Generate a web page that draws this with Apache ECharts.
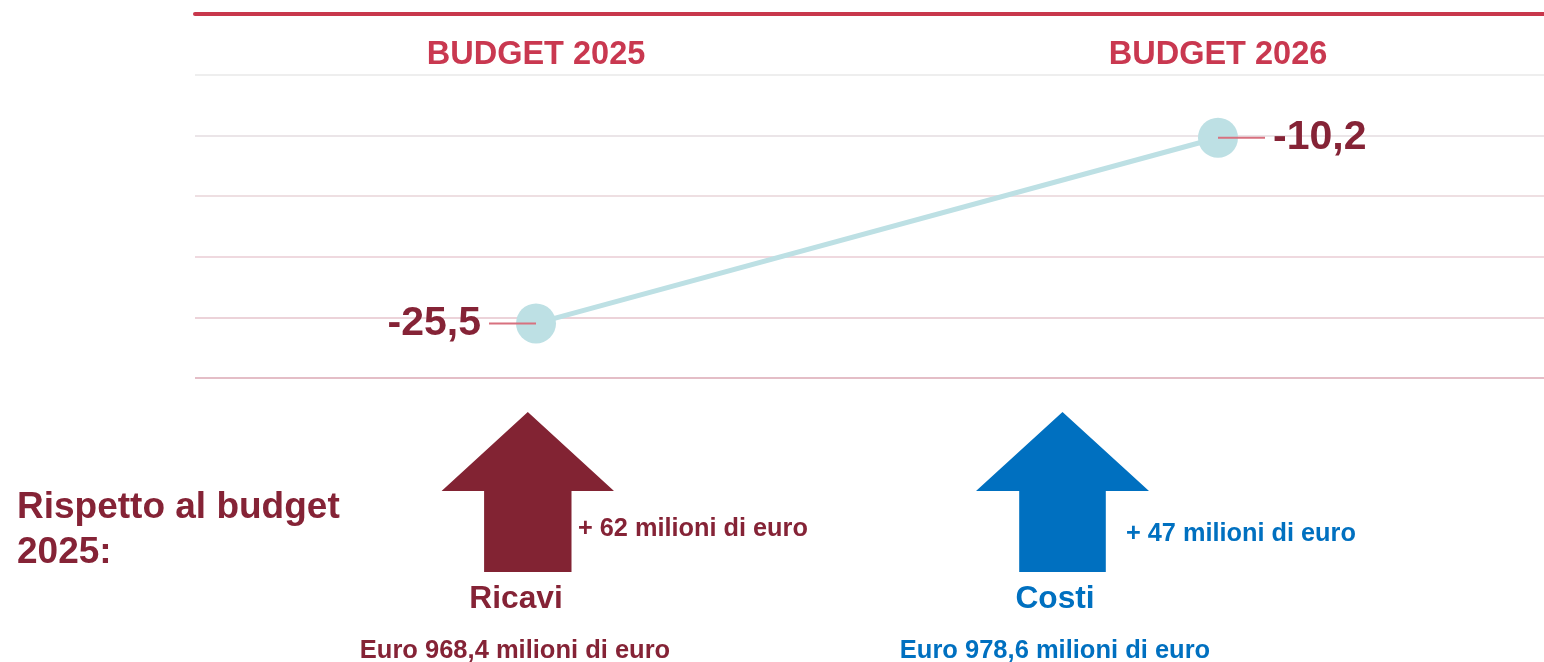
<!DOCTYPE html>
<html>
<head>
<meta charset="utf-8">
<script src="https://cdn.jsdelivr.net/npm/echarts@6/dist/echarts.min.js"></script>
<style>
  html, body { margin: 0; padding: 0; background: #fff; overflow: hidden; }
  /* the plot runs a little past the right edge, as in the original */
  #chart { width: 1559px; height: 662px; }
</style>
</head>
<body>
<div id="chart"></div>
<script>
// dati del grafico
const categories = ['BUDGET 2025', 'BUDGET 2026']
const risultato = [-25.5, -10.2]
const yMin = -30
const yMax = 0
const yStep = 5

// riquadro in basso
const introLines = ['Rispetto al budget', '2025:']
const voci = ['Ricavi', 'Costi']
const variazioni = ['+ 62 milioni di euro', '+ 47 milioni di euro']
const totali = ['Euro 968,4 milioni di euro', 'Euro 978,6 milioni di euro']

const FONT = '"Liberation Sans", Arial, Helvetica, sans-serif'
const MAROON = '#852336'
const BLUE = '#0070c0'
const RED = '#c8374c'

const chart = echarts.init(document.getElementById('chart'))

function fmt(v) {
  return v.toFixed(1).replace('.', ',')
}

// freccia verso l'alto
function arrow(cx, tipY, headHalf, headY, shaftHalf, bottomY, color) {
  return {
    type: 'polygon',
    silent: true,
    shape: {
      points: [
        [cx, tipY],
        [cx + headHalf, headY],
        [cx + shaftHalf, headY],
        [cx + shaftHalf, bottomY],
        [cx - shaftHalf, bottomY],
        [cx - shaftHalf, headY],
        [cx - headHalf, headY]
      ]
    },
    style: { fill: color }
  }
}

function txt(x, y, text, size, color, align) {
  return {
    type: 'text',
    x: x,
    y: y,
    silent: true,
    style: {
      text: text,
      fill: color,
      font: 'bold ' + size + 'px ' + FONT,
      align: align || 'left',
      verticalAlign: 'middle'
    }
  }
}

const option = {
  backgroundColor: '#fff',
  animation: false,
  grid: { left: 195, right: 0, top: 14, bottom: 284 },
  xAxis: {
    type: 'category',
    position: 'top',
    data: categories,
    axisLine: { show: true, lineStyle: { color: RED, width: 4 } },
    axisTick: { show: false },
    axisLabel: {
      inside: true,
      margin: 41,
      verticalAlign: 'middle',
      color: '#c93850',
      fontSize: 32.5,
      fontWeight: 'bold',
      fontFamily: FONT
    },
    splitLine: { show: false }
  },
  yAxis: {
    type: 'value',
    min: yMin,
    max: yMax,
    interval: yStep,
    axisLine: { show: false },
    axisTick: { show: false },
    axisLabel: { show: false },
    splitLine: {
      show: true,
      lineStyle: {
        width: 1.5,
        color: ['#dba9b4', '#e6c5cd', '#eacdd4', '#e9d4d9', '#e4dde0', '#e9e9e9', 'rgba(0,0,0,0)']
      }
    }
  },
  series: [
    {
      type: 'line',
      data: risultato,
      symbol: 'circle',
      symbolSize: 40,
      lineStyle: { color: '#bde0e4', width: 5 },
      itemStyle: { color: '#bde0e4' },
      z: 2
    },
    {
      // etichette con linea guida
      type: 'custom',
      z: 5,
      data: risultato.map((v, i) => [i, v]),
      renderItem: function (params, api) {
        const p = api.coord([api.value(0), api.value(1)])
        const dir = params.dataIndex === 0 ? -1 : 1
        return {
          type: 'group',
          children: [
            {
              type: 'line',
              shape: { x1: p[0], y1: p[1], x2: p[0] + dir * 47, y2: p[1] },
              style: { stroke: '#d8717f', lineWidth: 2 }
            },
            {
              type: 'text',
              x: p[0] + dir * 55,
              y: p[1],
              style: {
                text: fmt(api.value(1)),
                fill: MAROON,
                font: 'bold 41px ' + FONT,
                align: dir < 0 ? 'right' : 'left',
                verticalAlign: 'middle'
              }
            }
          ]
        }
      }
    }
  ],
  graphic: [
    txt(17, 508, introLines[0], 37, MAROON),
    txt(17, 553, introLines[1], 37, MAROON),

    arrow(527.8, 412, 86.2, 491, 43.7, 572, '#822333'),
    txt(578, 529.5, variazioni[0], 25.3, MAROON),
    txt(516, 599.5, voci[0], 31.7, MAROON, 'center'),
    txt(515, 651, totali[0], 25.5, MAROON, 'center'),

    arrow(1062.5, 412, 86.5, 491, 43.3, 572, BLUE),
    txt(1126, 534.5, variazioni[1], 25.3, BLUE),
    txt(1055, 599, voci[1], 31.7, BLUE, 'center'),
    txt(1055, 651, totali[1], 25.5, BLUE, 'center')
  ]
}

chart.setOption(option)
window.addEventListener('resize', () => chart.resize())
</script>
</body>
</html>
